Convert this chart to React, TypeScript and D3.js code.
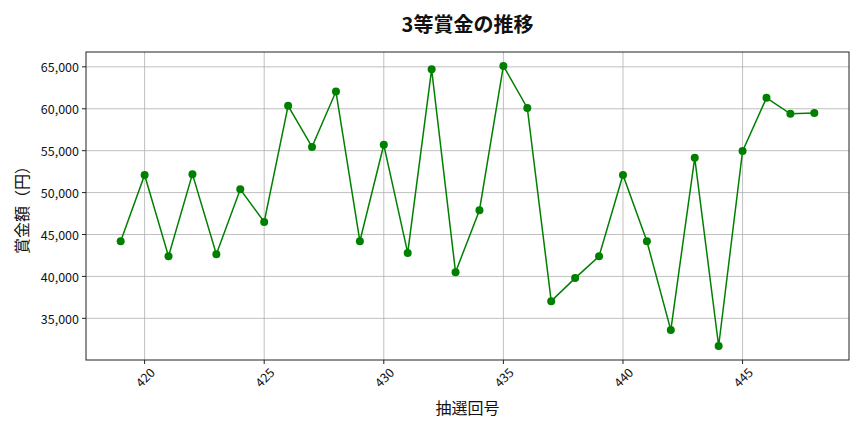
import { useEffect, useRef } from 'react';
import * as d3 from 'd3';

const draws = [
  419, 420, 421, 422, 423, 424, 425, 426, 427, 428, 429, 430, 431, 432, 433,
  434, 435, 436, 437, 438, 439, 440, 441, 442, 443, 444, 445, 446, 447, 448,
];
const prizes = [
  44200, 52100, 42400, 52200, 42650, 50400, 46500, 60350, 55450, 62050, 44200,
  55700, 42800, 64700, 40500, 47900, 65100, 60100, 37050, 39800, 42400, 52100,
  44200, 33600, 54150, 31700, 54950, 61300, 59400, 59500,
];
const xTicks = [420, 425, 430, 435, 440, 445];
const yTicks = [35000, 40000, 45000, 50000, 55000, 60000, 65000];

const title = '3等賞金の推移';
const xLabel = '抽選回号';
const yLabel = '賞金額（円）';

const W = 864;
const H = 432;
const FONT = '"Noto Sans CJK JP", "Noto Sans", sans-serif';

export default function App() {
  const ref = useRef<SVGSVGElement>(null);

  useEffect(() => {
    if (!ref.current) return;
    document.body.style.margin = '0';
    const svg = d3.select(ref.current);
    svg.selectAll('*').remove();

    const margin = { top: 52, right: 15, bottom: 72, left: 86 };
    const innerW = W - margin.left - margin.right;
    const innerH = H - margin.top - margin.bottom;

    const xPad = (d3.max(draws)! - d3.min(draws)!) * 0.05;
    const x = d3
      .scaleLinear()
      .domain([d3.min(draws)! - xPad, d3.max(draws)! + xPad])
      .range([0, innerW]);
    const yPad = (d3.max(prizes)! - d3.min(prizes)!) * 0.05;
    const y = d3
      .scaleLinear()
      .domain([d3.min(prizes)! - yPad, d3.max(prizes)! + yPad])
      .range([innerH, 0]);

    svg.append('rect').attr('width', W).attr('height', H).attr('fill', '#fff');

    const g = svg
      .append('g')
      .attr('transform', `translate(${margin.left},${margin.top})`);

    // grid
    g.selectAll('line.gx')
      .data(xTicks)
      .enter()
      .append('line')
      .attr('x1', (d) => x(d))
      .attr('x2', (d) => x(d))
      .attr('y1', 0)
      .attr('y2', innerH)
      .attr('stroke', '#b0b0b0')
      .attr('stroke-width', 0.8);
    g.selectAll('line.gy')
      .data(yTicks)
      .enter()
      .append('line')
      .attr('x1', 0)
      .attr('x2', innerW)
      .attr('y1', (d) => y(d))
      .attr('y2', (d) => y(d))
      .attr('stroke', '#b0b0b0')
      .attr('stroke-width', 0.8);

    // line + markers
    const pts = draws.map((d, i) => [d, prizes[i]] as [number, number]);
    const line = d3
      .line<[number, number]>()
      .x((d) => x(d[0]))
      .y((d) => y(d[1]));
    g.append('path')
      .attr('d', line(pts))
      .attr('fill', 'none')
      .attr('stroke', 'green')
      .attr('stroke-width', 1.5);
    g.selectAll('circle')
      .data(pts)
      .enter()
      .append('circle')
      .attr('cx', (d) => x(d[0]))
      .attr('cy', (d) => y(d[1]))
      .attr('r', 4)
      .attr('fill', 'green');

    // frame
    g.append('rect')
      .attr('width', innerW)
      .attr('height', innerH)
      .attr('fill', 'none')
      .attr('stroke', '#222')
      .attr('stroke-width', 1);

    // x ticks
    const xt = g
      .selectAll('g.xt')
      .data(xTicks)
      .enter()
      .append('g')
      .attr('transform', (d) => `translate(${x(d)},${innerH})`);
    xt.append('line').attr('y2', 4).attr('stroke', '#222');
    xt.append('text')
      .attr('transform', 'translate(0,17) rotate(-45)')
      .attr('text-anchor', 'middle')
      .attr('dominant-baseline', 'central')
      .attr('font-family', FONT)
      .attr('font-size', 12.5)
      .attr('fill', '#111')
      .text((d) => String(d));

    // y ticks
    const fmt = d3.format(',');
    const yt = g
      .selectAll('g.yt')
      .data(yTicks)
      .enter()
      .append('g')
      .attr('transform', (d) => `translate(0,${y(d)})`);
    yt.append('line').attr('x2', -4).attr('stroke', '#222');
    yt.append('text')
      .attr('x', -7)
      .attr('text-anchor', 'end')
      .attr('dominant-baseline', 'central')
      .attr('font-family', FONT)
      .attr('font-size', 12.5)
      .attr('fill', '#111')
      .text((d) => fmt(d));

    // labels
    svg
      .append('text')
      .attr('x', margin.left + innerW / 2)
      .attr('y', 32)
      .attr('text-anchor', 'middle')
      .attr('font-family', FONT)
      .attr('font-size', 20)
      .attr('font-weight', 'bold')
      .attr('fill', '#111')
      .text(title);
    svg
      .append('text')
      .attr('x', margin.left + innerW / 2)
      .attr('y', 414)
      .attr('text-anchor', 'middle')
      .attr('font-family', FONT)
      .attr('font-size', 16)
      .attr('fill', '#111')
      .text(xLabel);
    svg
      .append('text')
      .attr('transform', `translate(28,${margin.top + innerH / 2}) rotate(-90)`)
      .attr('text-anchor', 'middle')
      .attr('font-family', FONT)
      .attr('font-size', 16)
      .attr('fill', '#111')
      .text(yLabel);
  }, []);

  return <svg ref={ref} width={W} height={H} style={{ display: 'block' }} />;
}
